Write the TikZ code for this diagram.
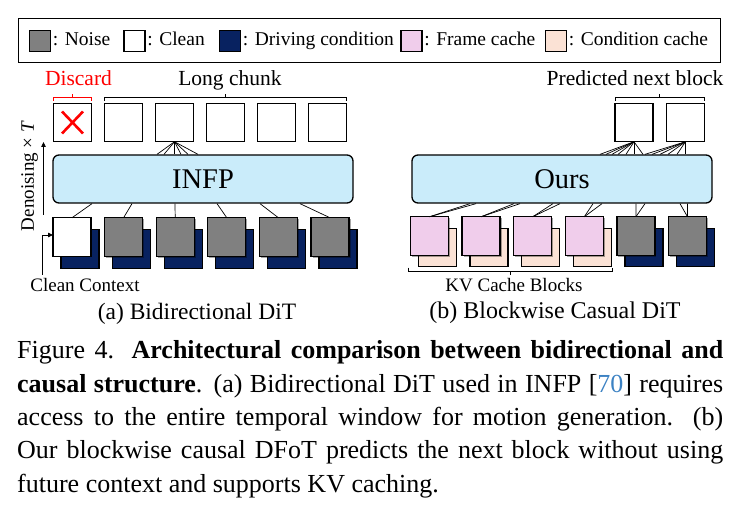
\documentclass[tikz,border=0pt]{standalone}
\usepackage{fontspec}
\setmainfont{Liberation Serif}
\usetikzlibrary{calc,shadows,arrows.meta}
\definecolor{noisegray}{RGB}{128,128,128}
\definecolor{navyc}{RGB}{8,34,96}
\definecolor{pinkc}{RGB}{240,205,235}
\definecolor{peachc}{RGB}{251,226,213}
\definecolor{modelblue}{RGB}{202,236,250}
\definecolor{citeblue}{RGB}{60,130,195}
\newcommand\myfs[1]{\fontsize{#1}{#1}\selectfont}
\begin{document}
\begin{tikzpicture}[x=1pt,y=-1pt,
  box/.style={draw=black, line width=1.3pt, minimum width=38pt, minimum height=38.5pt, inner sep=0pt, outer sep=0pt},
  shbox/.style={box, general shadow={fill=black, opacity=0.35, shadow xshift=1.5pt, shadow yshift=-1.5pt}},
  lsq/.style={draw=black, line width=1.3pt, minimum width=21pt, minimum height=21pt, inner sep=0pt},
  model/.style={draw=black, line width=1.3pt, rounded corners=6pt, fill=modelblue, minimum width=300pt, minimum height=48pt, inner sep=0pt, font=\myfs{28.5}},
  conn/.style={line width=0.7pt},
  brk/.style={line width=0.8pt},
  lbl/.style={inner sep=0pt, anchor=base},
  ltxt/.style={inner sep=0pt, anchor=base west, font=\myfs{19.5}},
  capl/.style={inner sep=0pt, anchor=base west, font=\myfs{26}},
  arr/.style={line width=0.8pt, -{Triangle[length=5pt,width=4.5pt]}}
]
\useasboundingbox (0,0) rectangle (740,513);

% ---------- legend ----------
\node[draw=black, line width=1.3pt, minimum width=702pt, minimum height=44pt, anchor=north west, inner sep=0pt] (legend) at (18,18) {};
\node[lsq, fill=noisegray] (lg1) at (40,41) {};
\node[lsq, fill=white] (lg2) at (134.5,41) {};
\node[lsq, fill=navyc] (lg3) at (230,41) {};
\node[lsq, fill=pinkc] (lg4) at (411.5,41) {};
\node[lsq, fill=peachc] (lg5) at (556,41) {};
\node[ltxt] (lt1t) at ($(lg1.east)+(1.5,5)$) {: Noise};
\node[ltxt] (lt2t) at ($(lg2.east)+(1.5,5)$) {: Clean};
\node[ltxt] (lt3t) at ($(lg3.east)+(1.5,5)$) {: Driving condition};
\node[ltxt] (lt4t) at ($(lg4.east)+(1.5,5)$) {: Frame cache};
\node[ltxt] (lt5t) at ($(lg5.east)+(1.5,5)$) {: Condition cache};

% ---------- (a) left panel ----------
\foreach \i in {1,...,6}
  \node[box, fill=white] (lt\i) at ({72.5+51*(\i-1)},122.5) {};
\draw[red, line width=2.6pt] ($(lt1.center)+(-10.5,-11)$) -- ($(lt1.center)+(10.5,11)$);
\draw[red, line width=2.6pt] ($(lt1.center)+(-10.5,11)$) -- ($(lt1.center)+(10.5,-11)$);

\node[model] (infp) at (203,179) {INFP};

\foreach \i in {1,...,6}
  \node[box, fill=navyc] (lb\i) at ({72+51.6*(\i-1)+8},249) {};
\node[box, fill=white] (lf1) at (72,237) {};
\foreach \i in {2,...,6}
  \node[shbox, fill=noisegray] (lf\i) at ({72+51.6*(\i-1)},237) {};

% fan top
\foreach \x in {157,164,174.5,181,188,198}
  \draw[conn] (lt3.south) -- (infp.north -| \x,0);
% bottom connectors
\foreach \i/\x in {1/92,2/132,3/175,4/217,5/260,6/300}
  \draw[conn] (lf\i.north) -- (infp.south -| \x,0);

% brackets
\coordinate (dA) at ($(lt1.north west)+(0,-6)$);
\coordinate (dB) at ($(lt1.north east)+(0,-6)$);
\draw[brk, red] ($(dA)+(0,4)$) -- (dA) -- (dB) -- ($(dB)+(0,4)$);
\draw[brk, red] ($(dA)!0.5!(dB)$) -- ++(0,-3);
\coordinate (cA) at ($(lt2.north west)+(0,-6)$);
\coordinate (cB) at ($(lt6.north east)+(0,-6)$);
\draw[brk] ($(cA)+(0,4)$) -- (cA) -- (cB) -- ($(cB)+(0,4)$);
\draw[brk] ($(cA)!0.5!(cB)$) -- ++(0,-3);

\node[lbl, red, font=\myfs{21.5}] (discard) at (78.5,85.5) {Discard};
\node[lbl, font=\myfs{21.5}] (longchunk) at (230,85.5) {Long chunk};

% denoising arrow
\coordinate (dn0) at (43.5,215);
\coordinate (dn1) at (43.5,142);
\draw[arr] (dn0) -- (dn1);
\node[lbl, rotate=90, font=\myfs{19}] (den) at (34,176) {Denoising × \textit{T}};
\coordinate (cc0) at (42,275);
\draw[arr] (cc0) |- ($(lf1.west)+(0,-2)$);
\node[lbl, font=\myfs{19}] (cleanctx) at (85,292) {Clean Context};
\node[lbl, font=\myfs{23.5}] (capa) at (197,320) {(a) Bidirectional DiT};

% ---------- (b) right panel ----------
\node[box, fill=white] (rt1) at (634,122.5) {};
\node[box, fill=white] (rt2) at (685.5,122.5) {};
\node[model] (ours) at (562,179) {Ours};

\foreach \i in {1,...,4}
  \node[box, fill=peachc] (rb\i) at ({429.5+51.6*(\i-1)+8},247.5) {};
\foreach \i in {5,6}
  \node[box, fill=navyc] (rb\i) at ({429.5+51.6*(\i-1)+8},247.5) {};
\foreach \i in {1,...,4}
  \node[shbox, fill=pinkc] (rf\i) at ({429.5+51.6*(\i-1)},236) {};
\foreach \i in {5,6}
  \node[shbox, fill=noisegray] (rf\i) at ({429.5+51.6*(\i-1)},236) {};

\foreach \x in {600,606,612,618,626,634,643}
  \draw[conn] (rt1.south) -- (ours.north -| \x,0);
\foreach \x in {645,652,660,668,677,685.5}
  \draw[conn] (rt2.south) -- (ours.north -| \x,0);

\foreach \i/\x in {1/470,1/476,2/514,2/520,3/553,3/560,4/593,4/602,5/636,5/645,6/680,6/687.5}
  \draw[conn] (rf\i.north) -- (ours.south -| \x,0);

\coordinate (pA) at ($(rt1.north west)+(0,-6)$);
\coordinate (pB) at ($(rt2.north east)+(0,-6)$);
\draw[brk] ($(pA)+(0,4)$) -- (pA) -- (pB) -- ($(pB)+(0,4)$);
\draw[brk] ($(pA)!0.5!(pB)$) -- ++(0,-3);
\node[lbl, font=\myfs{21.5}] (prednext) at (635,85.5) {Predicted next block};

\coordinate (kA) at ($(rf1.west |- rb1.south)+(-2,5)$);
\coordinate (kB) at ($(rb4.south east)+(1,5)$);
\draw[brk] ($(kA)+(0,-4)$) -- (kA) -- (kB) -- ($(kB)+(0,-4)$);
\draw[brk] ($(kA)!0.5!(kB)$) -- ++(0,3);
\node[lbl, font=\myfs{19}] (kvtxt) at (514,292) {KV Cache Blocks};
\node[lbl, font=\myfs{24}] (capb) at (555,319) {(b) Blockwise Casual DiT};

% ---------- caption ----------
\node[capl] (c1) at (17,359) {\makebox[706pt][s]{Figure 4. \textbf{Architectural comparison between bidirectional and}}};
\node[capl] (c2) at (17,392.5) {\makebox[706pt][s]{\textbf{causal structure}. (a) Bidirectional DiT used in INFP [\textcolor{citeblue}{70}] requires}};
\node[capl] (c3) at (17,426) {\makebox[706pt][s]{access to the entire temporal window for motion generation. (b)}};
\node[capl] (c4) at (17,459) {\makebox[706pt][s]{Our blockwise causal DFoT predicts the next block without using}};
\node[capl] (c5) at (17,492.5) {future context and supports KV caching.};
\end{tikzpicture}
\end{document}
